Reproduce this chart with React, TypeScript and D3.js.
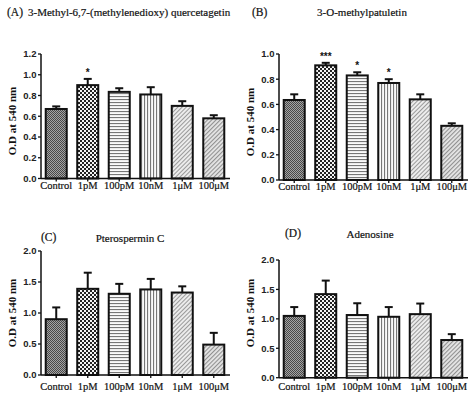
import React from "react";
import * as d3 from "d3";

const categories = ["Control", "1pM", "100pM", "10nM", "1μM", "100μM"];

const valuesA = [0.67, 0.9, 0.835, 0.81, 0.7, 0.58];
const errorsA = [0.025, 0.06, 0.035, 0.07, 0.045, 0.03];
const starsA = ["", "*", "", "", "", ""];
const ticksA = [0, 0.2, 0.4, 0.6, 0.8, 1.0, 1.2];

const valuesB = [0.635, 0.91, 0.83, 0.77, 0.64, 0.43];
const errorsB = [0.045, 0.02, 0.025, 0.03, 0.04, 0.02];
const starsB = ["", "***", "*", "*", "", ""];
const ticksB = [0, 0.2, 0.4, 0.6, 0.8, 1.0];

const valuesC = [0.9, 1.39, 1.31, 1.38, 1.33, 0.49];
const errorsC = [0.19, 0.26, 0.16, 0.17, 0.1, 0.19];
const starsC = ["", "", "", "", "", ""];
const ticksC = [0, 0.5, 1.0, 1.5, 2.0];

const valuesD = [1.05, 1.42, 1.065, 1.035, 1.08, 0.64];
const errorsD = [0.15, 0.23, 0.2, 0.165, 0.18, 0.1];
const starsD = ["", "", "", "", "", ""];
const ticksD = [0, 0.5, 1.0, 1.5, 2.0];

const panels = [
    { tag: "(A)", title: "3-Methyl-6,7-(methylenedioxy) quercetagetin", values: valuesA, errors: errorsA, stars: starsA, ticks: ticksA },
    { tag: "(B)", title: "3-O-methylpatuletin", values: valuesB, errors: errorsB, stars: starsB, ticks: ticksB },
    { tag: "(C)", title: "Pterospermin C", values: valuesC, errors: errorsC, stars: starsC, ticks: ticksC },
    { tag: "(D)", title: "Adenosine", values: valuesD, errors: errorsD, stars: starsD, ticks: ticksD },
];

// layout per panel (pixels)
const LAYOUT = [
    { x0: 41, yTop: 54, yBot: 178.5, tagX: 7, tagY: 16, titleX: 28, titleY: 16, anchor: "start", labY: 189, yTitleY: 121 },
    { x0: 279, yTop: 54, yBot: 180, tagX: 252, tagY: 16, titleX: 362, titleY: 16, anchor: "middle", labY: 189.5, yTitleY: 122 },
    { x0: 41, yTop: 251, yBot: 375, tagX: 41, tagY: 241, titleX: 130, titleY: 242, anchor: "middle", labY: 389.5, yTitleY: 313 },
    { x0: 279, yTop: 260, yBot: 377.7, tagX: 285, tagY: 237, titleX: 370, titleY: 238, anchor: "middle", labY: 390, yTitleY: 313 },
];

const FILLS = ["url(#p-ctrl)", "url(#p-check)", "url(#p-hor)", "url(#p-ver)", "url(#p-diag)", "url(#p-diag2)"];
const SERIF = "'Liberation Serif', 'Times New Roman', serif";
const SANS = "'Liberation Sans', Arial, sans-serif";

const Panel: React.FC<{ p: typeof panels[number]; l: typeof LAYOUT[number] }> = ({ p, l }) => {
    const x = d3.scaleBand<string>()
        .domain(categories)
        .range([l.x0, l.x0 + 188])
        .paddingInner(0.333)
        .paddingOuter(0.15);
    const y = d3.scaleLinear()
        .domain([0, p.ticks[p.ticks.length - 1]])
        .range([l.yBot, l.yTop]);
    const bw = x.bandwidth();

    return (
        <g>
            <text x={l.tagX} y={l.tagY} fontFamily={SERIF} fontSize={11.5} fill="#111" stroke="#111" strokeWidth={0.2}>{p.tag}</text>
            <text x={l.titleX} y={l.titleY} textAnchor={l.anchor} fontFamily={SERIF} fontSize={11} fill="#111"
                stroke="#111" strokeWidth={0.2}>{p.title}</text>

            {/* y axis title */}
            <text transform={`translate(${l.x0 - 25},${l.yTitleY}) rotate(-90)`} textAnchor="middle"
                fontFamily={SERIF} fontWeight="bold" fontSize={11} fill="#111">O.D at 540 nm</text>

            {/* bars */}
            {categories.map((c, i) => {
                const top = y(p.values[i]);
                const errTop = y(p.values[i] + p.errors[i]);
                const cx = x(c)! + bw / 2;
                return (
                    <g key={c}>
                        <line x1={cx} x2={cx} y1={top} y2={errTop} stroke="#111" strokeWidth={2} />
                        <line x1={cx - 4} x2={cx + 4} y1={errTop} y2={errTop} stroke="#111" strokeWidth={2} />
                        <rect x={x(c)!} y={top} width={bw} height={l.yBot - top}
                            fill={FILLS[i]} stroke="#111" strokeWidth={2} />
                        {p.stars[i] && (
                            <text x={cx} y={errTop - 3} textAnchor="middle" fontFamily={SANS}
                                fontSize={10} fontWeight="bold" fill="#111">{p.stars[i]}</text>
                        )}
                    </g>
                );
            })}

            {/* y axis */}
            <line x1={l.x0} x2={l.x0} y1={l.yTop} y2={l.yBot} stroke="#111" strokeWidth={1.5} />
            {p.ticks.map((t) => (
                <g key={t}>
                    <line x1={l.x0 - 3} x2={l.x0} y1={y(t)} y2={y(t)} stroke="#111" strokeWidth={1.3} />
                    <text x={l.x0 - 4.5} y={y(t) + 3.3} textAnchor="end" fontFamily={SANS} fontWeight="bold"
                        fontSize={9.5} fill="#222">{t.toFixed(1)}</text>
                </g>
            ))}

            {/* x axis */}
            <line x1={l.x0} x2={l.x0 + 189} y1={l.yBot} y2={l.yBot} stroke="#111" strokeWidth={1.5} />
            {categories.map((c) => (
                <g key={c}>
                    <line x1={x(c)! + bw / 2} x2={x(c)! + bw / 2} y1={l.yBot} y2={l.yBot + 3} stroke="#111" strokeWidth={1.3} />
                    <text x={x(c)! + bw / 2} y={l.labY} textAnchor="middle" fontFamily={SERIF}
                        fontSize={10.5} fill="#111" stroke="#111" strokeWidth={0.2}>{c}</text>
                </g>
            ))}
        </g>
    );
};

export default function App() {
    return (
        <svg width={474} height={395} style={{ position: "fixed", left: 0, top: 0, background: "#fff" }}>
            <defs>
                <pattern id="p-ctrl" width={2} height={2} patternUnits="userSpaceOnUse">
                    <rect width={2} height={2} fill="#a4a4a4" />
                    <rect width={1} height={1} fill="#484848" />
                    <rect x={1} y={1} width={1} height={1} fill="#484848" />
                </pattern>
                <pattern id="p-check" width={4} height={4} patternUnits="userSpaceOnUse">
                    <rect width={4} height={4} fill="#f4f4f4" />
                    <rect width={2} height={2} fill="#222" />
                    <rect x={2} y={2} width={2} height={2} fill="#222" />
                </pattern>
                <pattern id="p-hor" width={3} height={3} patternUnits="userSpaceOnUse">
                    <rect width={3} height={3} fill="#fafafa" />
                    <rect width={3} height={1.1} fill="#777" />
                </pattern>
                <pattern id="p-ver" width={3} height={3} patternUnits="userSpaceOnUse">
                    <rect width={3} height={3} fill="#fafafa" />
                    <rect width={1.1} height={3} fill="#777" />
                </pattern>
                <pattern id="p-diag" width={3} height={3} patternUnits="userSpaceOnUse" patternTransform="rotate(45)">
                    <rect width={3} height={3} fill="#ececec" />
                    <rect width={1} height={3} fill="#9a9a9a" />
                </pattern>
                <pattern id="p-diag2" width={3} height={3} patternUnits="userSpaceOnUse" patternTransform="rotate(45)">
                    <rect width={3} height={3} fill="#e6e6e6" />
                    <rect width={1.1} height={3} fill="#909090" />
                </pattern>
            </defs>
            {panels.map((p, i) => (
                <Panel key={p.tag} p={p} l={LAYOUT[i]} />
            ))}
        </svg>
    );
}
